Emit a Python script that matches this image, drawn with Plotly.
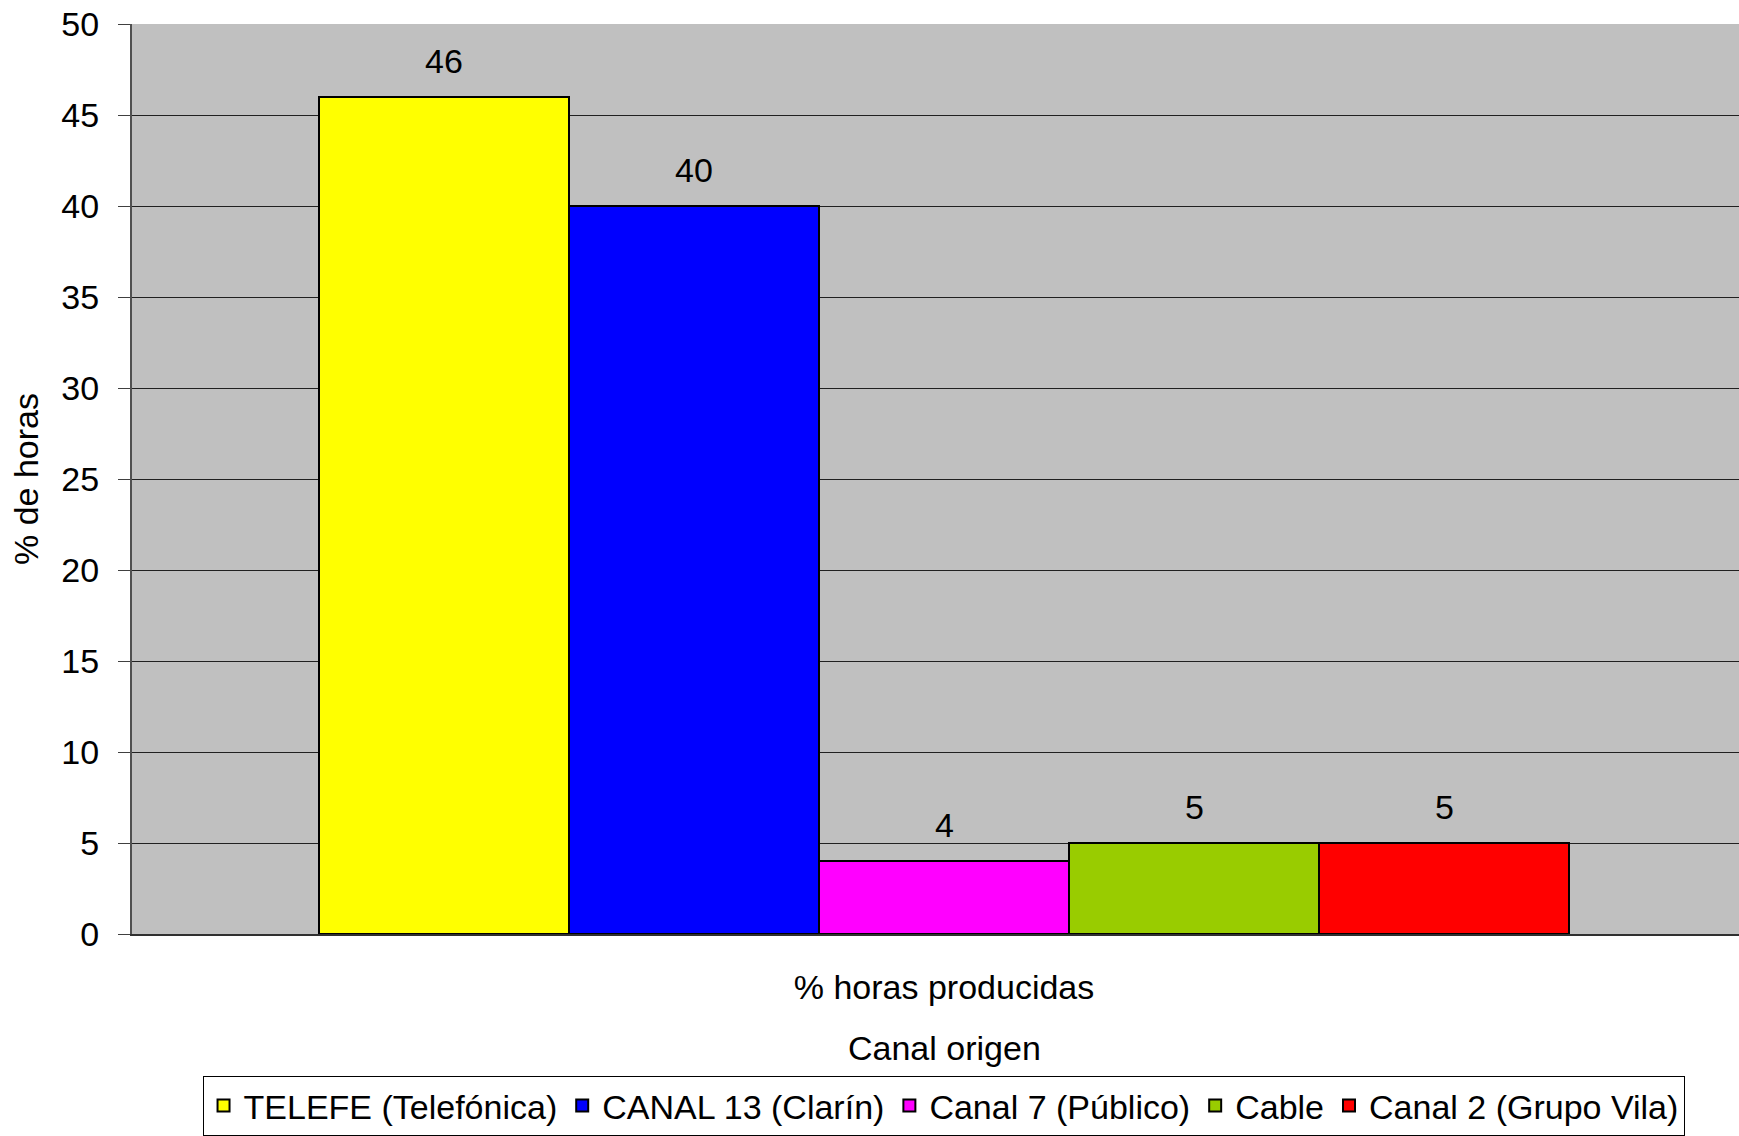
import plotly.graph_objects as go

categories = ["TELEFE (Telefónica)", "CANAL 13 (Clarín)", "Canal 7 (Público)", "Cable", "Canal 2 (Grupo Vila)"]
values = [46, 40, 4, 5, 5]
colors = ["#FFFF00", "#0000FF", "#FF00FF", "#99CC00", "#FF0000"]
x_group_label = "% horas producidas"
x_title = "Canal origen"
y_title = "% de horas"
y_ticks = [0, 5, 10, 15, 20, 25, 30, 35, 40, 45, 50]

FONT = "Liberation Sans, Arial, sans-serif"
FS = 34

fig = go.Figure()
for cat, val, col in zip(categories, values, colors):
    fig.add_trace(go.Bar(
        x=[cat], y=[val], name=cat,
        marker=dict(color=col, line=dict(color="#000000", width=2)),
        width=1, hoverinfo="x+y",
    ))
    fig.add_annotation(x=cat, y=val, text=str(val), showarrow=False,
                       yshift=36, yanchor="middle",
                       font=dict(family=FONT, size=FS, color="#000000"))

# x-axis title, centred under the bar group
fig.add_annotation(x=categories[2], xref="x", y=0, yref="paper",
                   text=x_title, showarrow=False, yanchor="middle", yshift=-114,
                   font=dict(family=FONT, size=FS, color="#000000"))

fig.update_layout(
    width=1739, height=1136,
    margin=dict(l=132, r=0, t=24, b=195),
    paper_bgcolor="#FFFFFF",
    plot_bgcolor="#C0C0C0",
    barmode="overlay",
    bargap=0,
    font=dict(family=FONT, size=FS, color="#000000"),
    showlegend=True,
    legend=dict(
        orientation="h", x=0.505, xanchor="center", y=-0.156, yanchor="top",
        bgcolor="#FFFFFF", bordercolor="#000000", borderwidth=1,
        font=dict(family=FONT, size=FS, color="#000000"),
        traceorder="normal",
    ),
)

fig.update_xaxes(
    type="category",
    categoryorder="array", categoryarray=categories,
    range=[-1.248, 5.18],
    tickmode="array", tickvals=[categories[2]], ticktext=[x_group_label],
    ticks="", ticklabelstandoff=22,
    showgrid=False, zeroline=False,
    showline=True, linecolor="#303030", linewidth=2,
    tickfont=dict(family=FONT, size=FS),
)

fig.update_yaxes(
    range=[0, 50],
    tickmode="array", tickvals=y_ticks,
    ticks="outside", ticklen=12, tickcolor="#404040", tickwidth=1,
    ticklabelstandoff=12, ticklabeloverflow="allow",
    showgrid=True, gridcolor="#202020", gridwidth=1,
    zeroline=False,
    showline=True, linecolor="#505050", linewidth=2,
    title=dict(text=y_title, standoff=12, font=dict(family=FONT, size=FS)),
    tickfont=dict(family=FONT, size=FS),
)

fig.write_html("out.html",
               config={"displayModeBar": False},
               post_script="document.body.style.margin='0';document.body.style.overflow='hidden';")
